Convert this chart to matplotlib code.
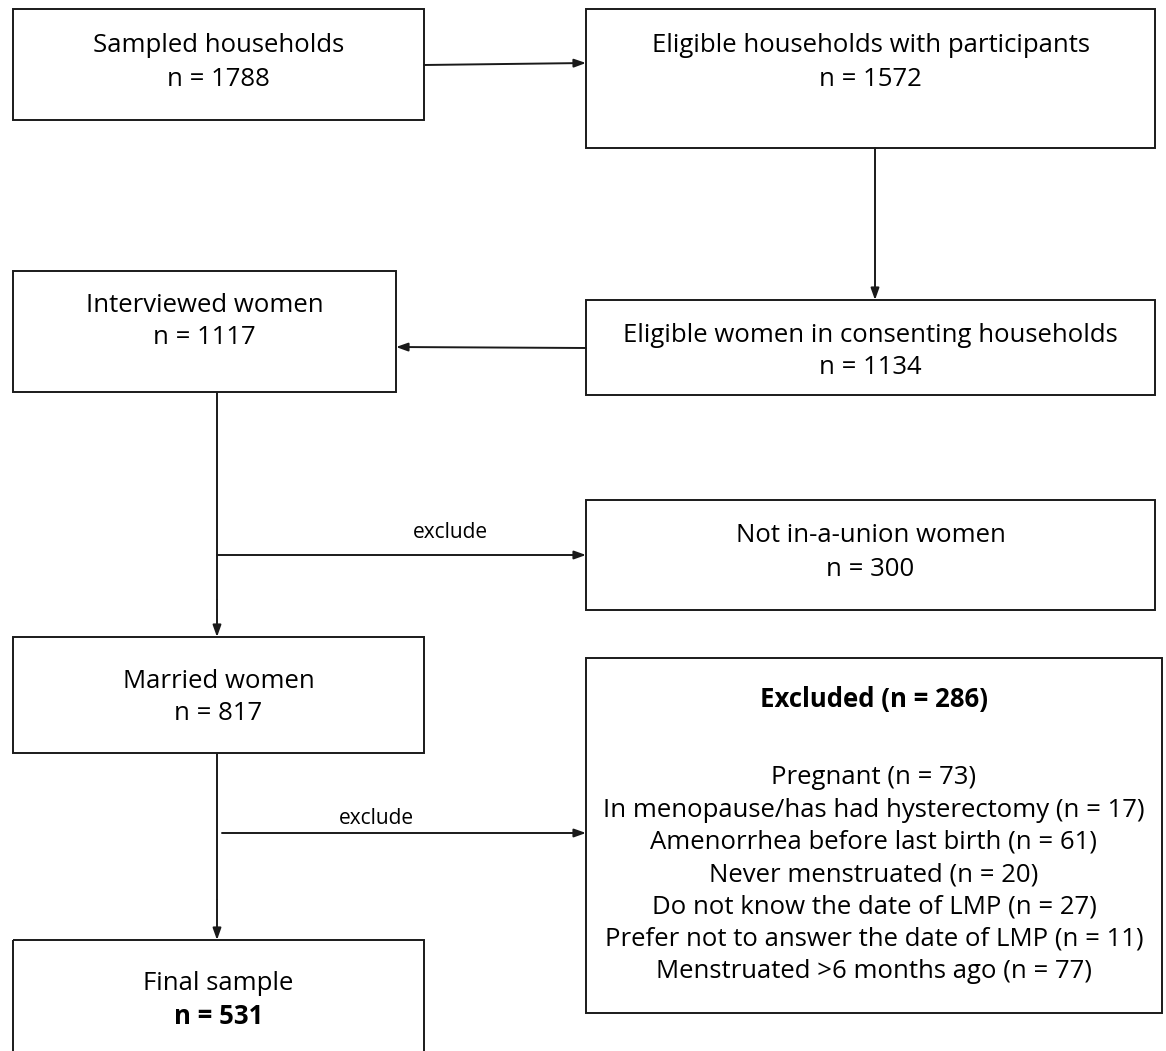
import matplotlib
matplotlib.use("Agg")
import matplotlib.pyplot as plt
from matplotlib.patches import Rectangle

plt.rcParams['font.family'] = ['Open Sans', 'DejaVu Sans']

# ---- data ----
stage_labels = ["Sampled households", "Eligible households with participants",
                "Eligible women in consenting households", "Interviewed women",
                "Not in-a-union women", "Married women", "Final sample"]
stage_counts = [1788, 1572, 1134, 1117, 300, 817, 531]
excluded_total = 286
excluded_reasons = ["Pregnant", "In menopause/has had hysterectomy",
                    "Amenorrhea before last birth", "Never menstruated",
                    "Do not know the date of LMP",
                    "Prefer not to answer the date of LMP",
                    "Menstruated >6 months ago"]
excluded_counts = [73, 17, 61, 20, 27, 11, 77]
branch_label = "exclude"

W, H = 1166, 1051
fig = plt.figure(figsize=(W / 100, H / 100), dpi=100)
ax = fig.add_axes([0, 0, 1, 1])
ax.set_xlim(0, W)
ax.set_ylim(H, 0)
ax.axis('off')

FS = 18.5
LW = 1.4

# box layout (x0, y0, x1, y1) in pixel space
boxes = [
    (13, 9, 424, 120),
    (586, 9, 1155, 148),
    (586, 300, 1155, 395),
    (13, 271, 396, 392),
    (586, 500, 1155, 610),
    (13, 637, 424, 753),
    (13, 940, 424, 1060),
]
text_y = [(46, 79), (46, 79), (336, 368), (305, 338), (536, 569), (681, 713), (984, 1017)]

for i, (x0, y0, x1, y1) in enumerate(boxes):
    ax.add_patch(Rectangle((x0, y0), x1 - x0, y1 - y0, fill=False,
                           edgecolor='#1a1a1a', lw=LW, clip_on=False))
    cx = (x0 + x1) / 2
    ax.text(cx, text_y[i][0], stage_labels[i], ha='center', va='center', fontsize=FS)
    ax.text(cx, text_y[i][1], f"n = {stage_counts[i]}", ha='center', va='center',
            fontsize=FS, fontweight='bold' if i == 6 else 'normal')

# excluded box
ex0, ey0, ex1, ey1 = 586, 658, 1162, 1013
ax.add_patch(Rectangle((ex0, ey0), ex1 - ex0, ey1 - ey0, fill=False,
                       edgecolor='#1a1a1a', lw=LW))
ecx = (ex0 + ex1) / 2
ax.text(ecx, 699, f"Excluded (n = {excluded_total})", ha='center', va='center',
        fontsize=FS, fontweight='bold')
for k, (r, c) in enumerate(zip(excluded_reasons, excluded_counts)):
    ax.text(ecx, 778 + k * 32.2, f"{r} (n = {c})", ha='center', va='center', fontsize=FS)

def arrow(x0, y0, x1, y1):
    ax.annotate("", xy=(x1, y1), xytext=(x0, y0),
                arrowprops=dict(arrowstyle='-|>,head_length=0.7,head_width=0.25',
                                lw=LW, color='#1a1a1a', shrinkA=0, shrinkB=0))

def line(xs, ys):
    ax.plot(xs, ys, color='#1a1a1a', lw=LW, solid_capstyle='butt')

arrow(424, 65, 586, 63)
arrow(875, 148, 875, 300)
arrow(586, 348, 396, 347)
line([217, 217], [392, 600])
arrow(217, 600, 217, 637)
arrow(217, 555, 586, 555)
ax.text(450, 533, branch_label, ha='center', va='center', fontsize=15)
line([217, 217], [753, 900])
arrow(217, 900, 217, 940)
arrow(222, 833, 586, 833)
ax.text(376, 818, branch_label, ha='center', va='center', fontsize=15)

fig.savefig("out.png", dpi=100, facecolor='white')
